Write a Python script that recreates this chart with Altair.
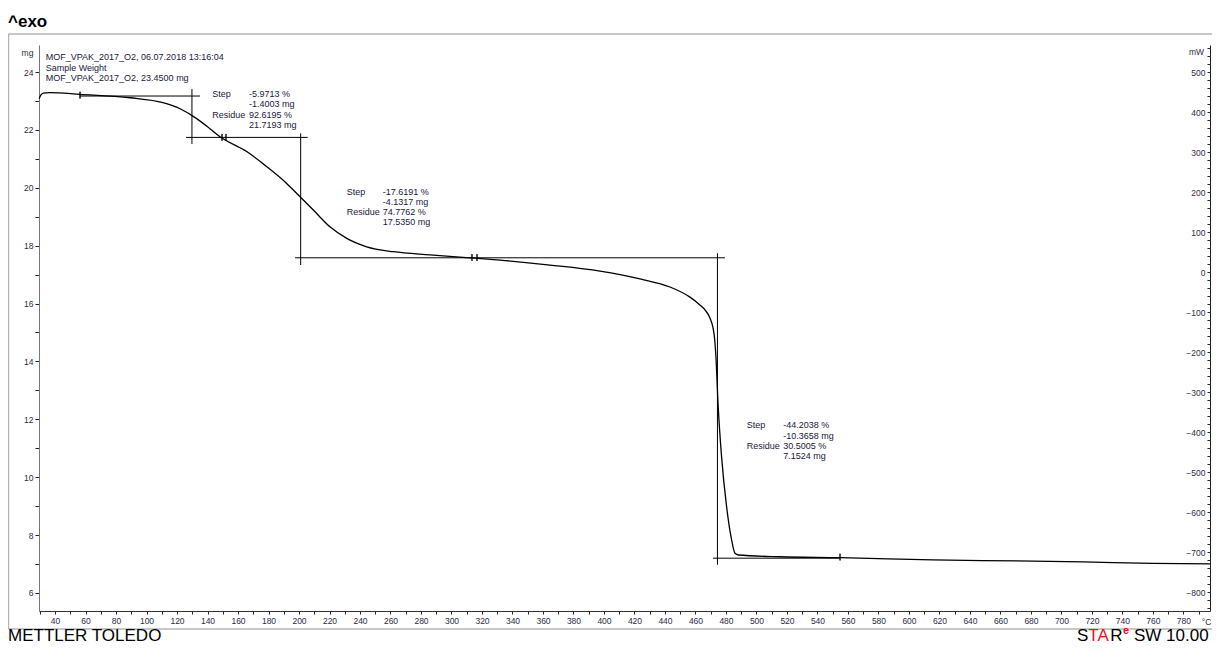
import altair as alt
import pandas as pd

# ---------------- data ----------------
temp_c = [29.6, 30.8, 32.3, 36.7, 56.4, 89.2, 110.8, 122.0, 132.9, 141.6, 148.2,
          165.7, 178.8, 191.9, 200.7, 209.4, 220.3, 231.3, 244.4, 261.8, 285.9,
          312.1, 331.8, 364.6, 397.4, 423.6, 443.3, 456.4, 462.9, 466.2, 469.5,
          471.5, 472.5, 473.4, 474.9, 477.1, 480.4, 483.7, 485.9, 488.1, 515.4,
          554.8, 615.7, 681.3, 714.1, 760.0, 797.4]
mass_mg = [23.08, 23.21, 23.27, 23.29, 23.23, 23.11, 22.94, 22.73, 22.39, 22.04, 21.76,
           21.25, 20.73, 20.15, 19.69, 19.23, 18.65, 18.25, 17.96, 17.79, 17.68,
           17.58, 17.50, 17.33, 17.12, 16.85, 16.57, 16.22, 15.95, 15.78, 15.50,
           15.16, 14.80, 14.16, 12.43, 10.71, 8.98, 7.83, 7.37, 7.31, 7.25,
           7.22, 7.14, 7.10, 7.07, 7.02, 7.00]

# step-evaluation construction lines
hline_t1 = [56.4, 125.9, 197.4, 471.5]
hline_t2 = [135.1, 205.7, 479.3, 554.8]
hline_mg = [23.17, 21.74, 17.58, 7.20]
vline_t = [129.8, 201.1, 474.4]
vline_mg1 = [23.41, 21.88, 17.74]
vline_mg2 = [21.51, 17.33, 6.97]

# evaluation limit markers
marker_t = [56.4, 149.5, 152.1, 313.4, 316.7, 554.8]
marker_mg = [23.20, 21.74, 21.74, 17.59, 17.59, 7.24]

# header text
header_lines = ["MOF_VPAK_2017_O2, 06.07.2018 13:16:04", "Sample Weight",
                "MOF_VPAK_2017_O2, 23.4500 mg"]
header_t = [33.9, 33.9, 33.9]
header_mg = [24.52, 24.14, 23.79]

# step result blocks
step_names = ["Step", "", "Residue", ""]
step1_vals = ["-5.9713 %", "-1.4003 mg", "92.6195 %", "21.7193 mg"]
step2_vals = ["-17.6191 %", "-4.1317 mg", "74.7762 %", "17.5350 mg"]
step3_vals = ["-44.2038 %", "-10.3658 mg", "30.5005 %", "7.1524 mg"]
step_name_t = [143.1, 231.3, 493.6]
step_val_t = [167.2, 254.9, 517.6]
step_mg = [[23.23, 22.88, 22.52, 22.17],
           [19.86, 19.51, 19.16, 18.81],
           [11.80, 11.43, 11.09, 10.73]]

x_ticks = list(range(30, 800, 10))
y_ticks = list(range(6, 25, 1))
mw_ticks = list(range(-840, 561, 20))

# ---------------- build tables ----------------
curve = pd.DataFrame({"T": temp_c, "mg": mass_mg})
hl = pd.DataFrame({"t1": hline_t1, "t2": hline_t2, "mg": hline_mg})
vl = pd.DataFrame({"t": vline_t, "mg1": vline_mg1, "mg2": vline_mg2})
mk = pd.DataFrame({"t": marker_t, "mg": marker_mg})
hdr = pd.DataFrame({"t": header_t, "mg": header_mg, "label": header_lines})

rows = []
for i, vals in enumerate([step1_vals, step2_vals, step3_vals]):
    for j in range(4):
        if step_names[j]:
            rows.append({"t": step_name_t[i], "mg": step_mg[i][j], "label": step_names[j]})
        rows.append({"t": step_val_t[i], "mg": step_mg[i][j], "label": vals[j]})
steps = pd.DataFrame(rows)

one = pd.DataFrame({"k": [0]})

W, H = 1171, 566
xs = alt.Scale(domain=[29.5, 797.4], nice=False, zero=False)
ys = alt.Scale(domain=[5.375, 24.933], nice=False, zero=False)
ms = alt.Scale(domain=[-847.5, 567.5], nice=False, zero=False)

LBL = dict(labelFont="Liberation Sans", labelFontSize=8.5, labelColor="#2b2b45",
           titleFont="Liberation Sans", titleFontSize=8.5, titleColor="#2b2b45",
           titleFontWeight="normal", titleAngle=0, grid=False, labelOverlap=False,
           labelFlush=False, labelBound=False, tickColor="#222", tickWidth=1)

x_axis = alt.Axis(values=x_ticks, labelExpr="datum.value % 20 == 0 ? datum.label : ''",
                  tickSize=3, labelPadding=2, domainColor="#333", title="°C",
                  titleX=1167, titleY=10, titleAlign="center", titleBaseline="middle",
                  orient="bottom", **LBL)
y_axis = alt.Axis(values=y_ticks, labelExpr="datum.value % 2 == 0 ? datum.label : ''",
                  tickSize=4, labelPadding=2, domainColor="#777", title="mg",
                  titleX=-12, titleY=7, titleAlign="center", titleBaseline="middle",
                  **LBL)
mw_axis = alt.Axis(values=mw_ticks, labelExpr="datum.value % 100 == 0 ? datum.label : ''",
                   orient="left", offset=-W, tickSize=3, labelPadding=2, domainColor="#222",
                   title="mW", titleX=-14, titleY=6, titleAlign="center",
                   titleBaseline="middle", **LBL)

line = alt.Chart(curve).mark_line(color="black", strokeWidth=1.3, interpolate="monotone").encode(
    x=alt.X("T:Q", scale=xs, axis=x_axis),
    y=alt.Y("mg:Q", scale=ys, axis=y_axis),
)

hrules = alt.Chart(hl).mark_rule(color="black", strokeWidth=1).encode(
    x=alt.X("t1:Q", scale=xs, axis=None), x2="t2:Q",
    y=alt.Y("mg:Q", scale=ys, axis=None),
)
vrules = alt.Chart(vl).mark_rule(color="black", strokeWidth=1).encode(
    x=alt.X("t:Q", scale=xs, axis=None),
    y=alt.Y("mg1:Q", scale=ys, axis=None), y2="mg2:Q",
)
marks = alt.Chart(mk).mark_tick(orient="vertical", size=7, thickness=2, color="black").encode(
    x=alt.X("t:Q", scale=xs, axis=None),
    y=alt.Y("mg:Q", scale=ys, axis=None),
)

TXT = dict(align="left", baseline="middle", font="Liberation Sans", fontSize=9, color="#20203a")
hdr_text = alt.Chart(hdr).mark_text(**TXT).encode(
    x=alt.X("t:Q", scale=xs, axis=None), y=alt.Y("mg:Q", scale=ys, axis=None), text="label:N")
step_text = alt.Chart(steps).mark_text(**TXT).encode(
    x=alt.X("t:Q", scale=xs, axis=None), y=alt.Y("mg:Q", scale=ys, axis=None), text="label:N")

# right-hand mW axis (independent scale, invisible anchor mark)
mw_layer = alt.Chart(pd.DataFrame({"t": [400.0], "mw": [0.0]})).mark_point(opacity=0).encode(
    x=alt.X("t:Q", scale=xs, axis=None),
    y=alt.Y("mw:Q", scale=ms, axis=mw_axis),
)

# decorations: frame and page texts
FR = dict(color="#b4b4b4", strokeWidth=1.5)
FB = 584
frame_top = alt.Chart(one).mark_rule(**FR).encode(
    x=alt.value(-30.5), x2=alt.value(W + 2), y=alt.value(-11))
frame_left = alt.Chart(one).mark_rule(**FR).encode(
    x=alt.value(-30.5), y=alt.value(-11), y2=alt.value(FB))
frame_bottom = alt.Chart(one).mark_rule(**FR).encode(
    x=alt.value(-30.5), x2=alt.value(W + 2), y=alt.value(FB))

exo = alt.Chart(one).mark_text(align="left", baseline="alphabetic", font="Liberation Sans",
                               fontSize=17, fontWeight="bold", color="black").encode(
    x=alt.value(-31), y=alt.value(-18), text=alt.value("^exo"))

BT = dict(align="left", baseline="alphabetic", font="Liberation Sans", fontSize=17)
BY = 596
mettler = alt.Chart(one).mark_text(color="black", **BT).encode(
    x=alt.value(-31), y=alt.value(BY), text=alt.value("METTLER TOLEDO"))
star_s = alt.Chart(one).mark_text(color="black", **BT).encode(
    x=alt.value(1038), y=alt.value(BY), text=alt.value("S"))
star_ta = alt.Chart(one).mark_text(color="#e8141c", **BT).encode(
    x=alt.value(1049.3), y=alt.value(BY), text=alt.value("TA"))
star_r = alt.Chart(one).mark_text(color="black", **BT).encode(
    x=alt.value(1071.3), y=alt.value(BY), text=alt.value("R"))
star_e = alt.Chart(one).mark_text(align="left", baseline="alphabetic", font="Liberation Sans",
                                  fontSize=11, fontWeight="bold", color="#e8141c").encode(
    x=alt.value(1084), y=alt.value(BY - 7), text=alt.value("e"))
star_sw = alt.Chart(one).mark_text(color="black", **BT).encode(
    x=alt.value(1095), y=alt.value(BY), text=alt.value("SW 10.00"))

chart = alt.layer(
    line, hrules, vrules, marks, hdr_text, step_text, mw_layer,
    frame_top, frame_left, frame_bottom,
    exo, mettler, star_s, star_ta, star_r, star_e, star_sw,
).resolve_scale(x="independent", y="independent").properties(
    width=W, height=H,
    autosize=alt.AutoSizeParams(type="none"),
    padding={"left": 31, "top": 37, "right": 2, "bottom": 34},
    background="white",
).configure_view(stroke=None)

chart.save("out.html", embed_options={"renderer": "svg", "actions": False})
